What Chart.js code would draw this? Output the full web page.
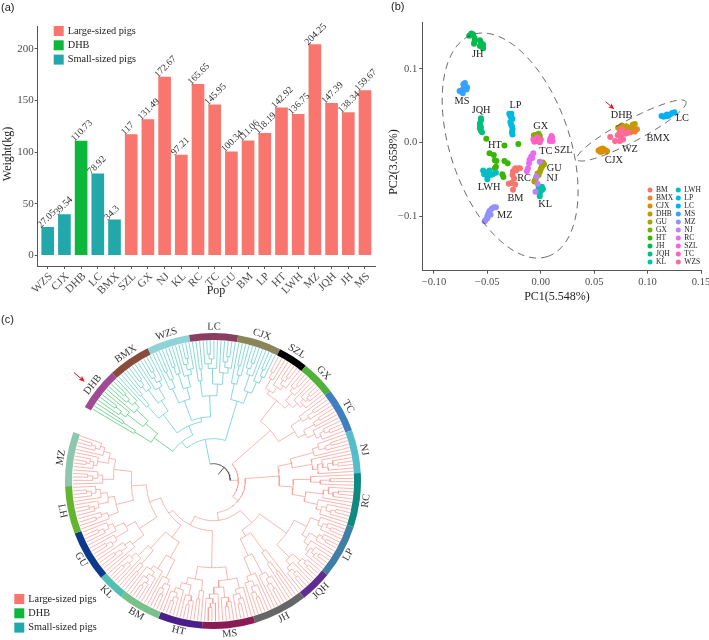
<!DOCTYPE html>
<html>
<head>
<meta charset="utf-8">
<script src="https://cdn.jsdelivr.net/npm/chart.js@4"></script>
<style>
  html, body { margin: 0; background: #fff; overflow: hidden; }
  canvas { position: absolute; }
</style>
</head>
<body>
<canvas id="bars" width="385" height="305" style="left:0;top:0"></canvas>
<canvas id="pca" width="334" height="305" style="left:375px;top:0"></canvas>
<canvas id="ring" width="296" height="296" style="left:65.3px;top:332.7px"></canvas>
<canvas id="tree" width="400" height="335" style="left:0;top:305px"></canvas>
<script>
// (a) body weight per population
const pops = ["WZS","CJX","DHB","LC","BMX","SZL","GX","NJ","KL","RC","TC","GU","BM","LP","HT","LWH","MZ","JQH","JH","MS"];
const weights = [27.05,39.54,110.73,78.92,34.3,117,131.49,172.67,97.21,165.65,145.95,100.34,111.06,118.19,142.92,136.75,204.25,147.39,138.34,159.67];
const weightLabels = ["27.05","39.54","110.73","78.92","34.3","117","131.49","172.67","97.21","165.65","145.95","100.34","111.06","118.19","142.92","136.75","204.25","147.39","138.34","159.67"];
const smallPigs = ["WZS","CJX","LC","BMX"];
const dhbPigs = ["DHB"];
const groupNames = ["Large-sized pigs","DHB","Small-sized pigs"];
const groupColors = ["#f8766d","#0cb73c","#22a8ab"];
const weightTicks = [0,50,100,150,200];

// (b) PCA, one list of [PC1, PC2] per population
const pcaNames = ["BM","BMX","CJX","DHB","GU","GX","HT","JH","JQH","KL","LWH","LP","LC","MS","MZ","NJ","RC","SZL","TC","WZS"];
const pcaColors = ["#F8766D","#EA8331","#D89000","#C09B00","#A3A500","#7CAE00","#39B600","#00BB4E","#00BF7D","#00C1A3","#00BFC4","#00BAE0","#00B0F6","#35A2FF","#9590FF","#C77CFF","#E76BF3","#FA62DB","#FF62BC","#FF6A98"];
const pcaBM = [[-.021,-.035],[-.024,-.035],[-.026,-.039],[-.0265,-.044],[-.025,-.049],[-.0275,-.055],[-.024,-.057],[-.026,-.064],[-.03,-.056],[-.0195,-.035],[-.023,-.038]];
const pcaBMX = [[.081,.013],[.088,.015],[.09,.018],[.084,.014],[.079,.016],[.086,.019]];
const pcaCJX = [[.054,-.011],[.056,-.009],[.058,-.008],[.06,-.01],[.062,-.012],[.056,-.013],[.058,-.012]];
const pcaDHB = [[.0725,.02],[.076,.023],[.08,.022],[.084,.02],[.086,.024],[.088,.025],[.083,.017],[.078,.018]];
const pcaGU = [[.002,-.027],[.003,-.03],[.001,-.033],[0,-.036],[-.001,-.04],[-.002,-.044],[-.004,-.047],[-.005,-.05],[-.006,-.053],[-.003,-.042],[.001,-.029]];
const pcaGX = [[-.0065,.01],[-.004,.0105],[-.002,.012],[-.001,.009],[-.005,.008]];
const pcaHT = [[-.051,.005],[-.034,-.004],[-.021,-.002],[-.048,-.0145],[-.044,-.017],[-.043,-.024],[-.0415,-.025],[-.042,-.033],[-.043,-.035],[-.034,-.025],[-.031,-.028],[-.036,-.043],[-.035,-.047]];
const pcaJH = [[-.065,.148],[-.0635,.147],[-.067,.145],[-.062,.142],[-.062,.137],[-.057,.139],[-.056,.136],[-.054,.133],[-.057,.131],[-.054,.128],[-.0625,.134]];
const pcaJQH = [[-.056,.033],[-.056,.03],[-.057,.026],[-.057,.023],[-.057,.019],[-.056,.016],[-.055,.014],[-.056,.021]];
const pcaKL = [[-.002,-.061],[.001,-.06],[.002,-.063],[0,-.066],[-.001,-.07],[-.001,-.073],[.001,-.064]];
const pcaLWH = [[-.054,-.038],[-.052,-.04],[-.05,-.042],[-.048,-.038],[-.05,-.046],[-.05,-.05],[-.047,-.044],[-.045,-.043],[-.042,-.041],[-.053,-.043]];
const pcaLP = [[-.0295,.039],[-.0275,.039],[-.0285,.036],[-.0275,.034],[-.0265,.032],[-.0285,.028],[-.028,.025],[-.027,.022],[-.0265,.018],[-.027,.014],[-.0265,.011]];
const pcaLC = [[.113,.036],[.115,.035],[.117,.036],[.119,.036],[.121,.038],[.123,.04],[.125,.041],[.118,.038]];
const pcaMS = [[-.073,.072],[-.072,.077],[-.0725,.079],[-.071,.081],[-.069,.075],[-.0695,.072],[-.0745,.069],[-.076,.07],[-.073,.067],[-.0715,.074]];
const pcaMZ = [[-.0525,-.107],[-.0515,-.105],[-.05,-.1],[-.049,-.096],[-.048,-.093],[-.046,-.09],[-.044,-.088],[-.042,-.088],[-.047,-.098],[-.05,-.103]];
const pcaNJ = [[-.005,-.067],[-.003,-.056],[-.004,-.046],[-.001,-.026]];
const pcaRC = [[-.007,-.0145],[-.009,-.019],[-.0105,-.0235],[-.011,-.028],[-.012,-.035],[-.013,-.039],[-.008,-.021]];
const pcaSZL = [[.009,.005],[.0105,.007],[.011,.002],[.0095,.0035],[.0085,.002],[.01,.009]];
const pcaTC = [[-.007,.004],[-.004,.002],[-.002,.003],[-.006,.001],[0,.004],[-.001,.0005],[-.0035,.007]];
const pcaWZS = [[.065,.0075],[.0695,.002],[.074,.002],[.077,.004],[.072,.01],[.074,.015],[.076,.018],[.079,.012],[.082,.014],[.075,.008],[.0735,.012]];
const pcaPoints = [pcaBM,pcaBMX,pcaCJX,pcaDHB,pcaGU,pcaGX,pcaHT,pcaJH,pcaJQH,pcaKL,pcaLWH,pcaLP,pcaLC,pcaMS,pcaMZ,pcaNJ,pcaRC,pcaSZL,pcaTC,pcaWZS];
const pc1Ticks = [-.1,-.05,0,.05,.1,.15];
const pc2Ticks = [-.1,0,.1];
const clusterLabels = [["JH",-.059,.1193],["MS",-.0737,.0558],["JQH",-.0559,.044],["LP",-.0237,.0503],["GX",0,.0222],["HT",-.0431,-.0036],["TC",.0047,-.0113],["SZL",.0212,-.0104],["GU",.0125,-.0349],["NJ",.0106,-.0485],["RC",-.0156,-.0485],["LWH",-.0484,-.0608],["BM",-.0237,-.0757],["KL",.0041,-.0834],["MZ",-.0337,-.0993],["DHB",.0756,.0367],["LC",.1324,.0331],["BMX",.1099,.0059],["WZ",.0834,-.0086],["CJX",.0684,-.024]];
// centre, first and second half axis of the two dashed ellipses, in PC units
const ellipses = [[-.0287,-.0041,.0353,-.1506,-.0529,-.0262],[.0849,.0163,.0509,.0393,.00484,-.0132]];

// (c) ring of the tree: arc degrees per population, going clockwise from DHB
const ringPops = ["DHB","BMX","WZS","LC","CJX","SZL","GX","TC","NJ","RC","LP","JQH","JH","MS","HT","BM","KL","GU","LH","MZ"];
const ringSpans = [17,16.8,16.9,19.1,17.2,11.8,13.7,17.4,17,21.2,21.3,12.6,21.5,20.8,17.4,16.7,10.8,20,18.8,21.3];
const ringColors = ["#a04a96","#8a4b3a","#8fd3d8","#8a3f60","#8c8559","#000000","#4fb03a","#3f7fc0","#55bccb","#0f8a80","#3f7ea5","#5f2d91","#666666","#8a1c55","#4b1f8a","#78c18a","#53bfb2","#0b3a8c","#63b52f","#8bc8ae"];
// leaves per sub-clade of each population
const popShape = {DHB:[3,4,5],BMX:[3,4,5],WZS:[4,3,5],LC:[3,5,5],CJX:[4,4,4],SZL:[3,5],GX:[4,6],TC:[4,3,5],NJ:[5,7],RC:[4,5,6],LP:[5,4,6],JQH:[4,5],JH:[4,5,6],MS:[5,4,5],HT:[3,4,5],BM:[5,7],KL:[3,5],GU:[5,4,5],LH:[4,4,5],MZ:[5,5,5]};
// [radius, child, child]; ["POP", radius] is one population's clade
const treeTop =
  [17,
    [42,
      [50, ["DHB",73],
        [60, ["BMX",83], [64, ["WZS",85], ["LC",85]]]],
      ["CJX",83]],
    [25,
      [76, [102, ["SZL",106], ["GX",108]], ["TC",95]],
      [32,
        [66, ["NJ",80], ["RC",80]],
        [40,
          [57, [90, [98, ["LP",104]], ["JQH",108]], ["JH",64]],
          [50,
            [87, ["MS",100], ["HT",100]],
            [55,
              [70, ["BM",88], ["KL",92]],
              [67, ["GU",88], [82, ["LH",100], ["MZ",100]]]]]]]]];

const axisGrey = "#555555", tickGrey = "#4d4d4d";
const serif = "'Liberation Serif', 'Times New Roman', serif";
Chart.defaults.animation = false;
Chart.defaults.font.family = serif;
Chart.defaults.color = tickGrey;
Chart.defaults.plugins.legend.display = false;
Chart.defaults.plugins.tooltip.enabled = false;

function note(ctx, text, x, y, font, color, angle, align) {
  ctx.save();
  ctx.translate(x, y);
  ctx.rotate((angle || 0) * Math.PI / 180);
  ctx.font = font;
  ctx.fillStyle = color || "#222";
  ctx.textAlign = align || "center";
  ctx.textBaseline = "middle";
  ctx.fillText(text, 0, 0);
  ctx.restore();
}
function redArrow(ctx, x0, y0, x1, y1) {
  const a = Math.atan2(y1 - y0, x1 - x0);
  ctx.save();
  ctx.strokeStyle = ctx.fillStyle = "#e8131b";
  ctx.lineWidth = 1;
  ctx.beginPath(); ctx.moveTo(x0, y0); ctx.lineTo(x1, y1); ctx.stroke();
  ctx.translate(x1, y1); ctx.rotate(a);
  ctx.beginPath(); ctx.moveTo(1, 0); ctx.lineTo(-5, -2.6); ctx.lineTo(-3.6, 0); ctx.lineTo(-5, 2.6); ctx.closePath(); ctx.fill();
  ctx.restore();
}
function groupLegend(ctx, x, y) {
  groupNames.forEach((name, i) => {
    ctx.fillStyle = groupColors[i];
    ctx.fillRect(x, y - 5 + i * 14.3, 10, 10);
    note(ctx, name, x + 14, y + i * 14.3, "10.3px " + serif, "#222", 0, "left");
  });
}
function fixBox(w, h) {
  return s => {
    if (w) s.width = w;
    if (h) s.height = h;
    s.paddingLeft = s.paddingRight = s.paddingTop = s.paddingBottom = 0;
  };
}
const useTicks = list => s => { s.ticks = list.map(value => ({value})); };

// ---- (a) ----
function groupOf(p) { return dhbPigs.includes(p) ? 1 : smallPigs.includes(p) ? 2 : 0; }
const barSets = groupNames.map((name, g) => ({
  label: name,
  backgroundColor: groupColors[g],
  barThickness: 12,
  grouped: false,
  data: pops.map((p, i) => ({x: i, y: weights[i], g: groupOf(p)})).filter(d => d.g === g)
}));
new Chart(document.getElementById("bars"), {
  type: "bar",
  data: {datasets: barSets},
  options: {
    responsive: false,
    layout: {padding: {top: 26, right: 10, left: 0, bottom: 0}},
    scales: {
      x: {
        type: "linear", min: -0.6, max: 19.6, offset: false,
        afterBuildTicks: useTicks(pops.map((p, i) => i)),
        afterFit: fixBox(0, 39),
        ticks: {callback: v => pops[v], autoSkip: false, minRotation: 45, maxRotation: 45, padding: 1, labelOffset: 3, font: {size: 11.2}},
        grid: {drawOnChartArea: false, offset: false, tickLength: 3, color: axisGrey},
        border: {color: axisGrey}
      },
      y: {
        min: -10.4, max: 222.3,
        afterBuildTicks: useTicks(weightTicks),
        afterFit: fixBox(37.7, 0),
        ticks: {padding: 1, font: {size: 11}},
        grid: {drawOnChartArea: false, tickLength: 3, color: axisGrey},
        border: {color: axisGrey}
      }
    }
  },
  plugins: [{
    id: "barNotes",
    afterDraw(chart) {
      const {ctx, scales: {x, y}} = chart;
      weights.forEach((w, i) => {
        note(ctx, weightLabels[i], x.getPixelForValue(i) - 8.5, y.getPixelForValue(w) - 1, "9.6px " + serif, "#333", -45, "left");
      });
      groupLegend(ctx, 53.7, 31);
      note(ctx, "(a)", 1, 8, "11px 'Liberation Sans'", "#222", 0, "left");
      note(ctx, "Weight(kg)", 7.5, 154, "12px " + serif, "#222", -90);
      note(ctx, "Pop", 216, 291, "12px " + serif, "#222");
    }
  }]
});

// ---- (b) ----
const pcaSets = pcaNames.map((name, i) => ({
  label: name,
  order: pcaNames.length - i,
  backgroundColor: pcaColors[i],
  pointRadius: 3,
  pointBorderWidth: 0,
  data: pcaPoints[i].map(p => ({x: p[0], y: p[1]}))
}));
new Chart(document.getElementById("pca"), {
  type: "scatter",
  data: {datasets: pcaSets},
  options: {
    responsive: false,
    layout: {padding: {top: 22, right: 7.3, left: 0, bottom: 0}},
    scales: {
      x: {
        min: -.1109, max: .1506,
        afterBuildTicks: useTicks(pc1Ticks),
        afterFit: fixBox(0, 34.3),
        ticks: {callback: v => (v < 0 ? "\u2212" : "") + Math.abs(v).toFixed(2), padding: 2, maxRotation: 0, autoSkip: false, font: {size: 10.6}},
        grid: {drawOnChartArea: false, tickLength: 3, color: axisGrey},
        border: {color: axisGrey}
      },
      y: {
        min: -.1741, max: .1637,
        afterBuildTicks: useTicks(pc2Ticks),
        afterFit: fixBox(47.3, 0),
        ticks: {callback: v => (v < 0 ? "\u2212" : "") + Math.abs(v).toFixed(1), padding: 2, font: {size: 10.6}},
        grid: {drawOnChartArea: false, tickLength: 3, color: axisGrey},
        border: {color: axisGrey}
      }
    }
  },
  plugins: [{
    id: "pcaNotes",
    afterDatasetsDraw(chart) {
      const {ctx, scales: {x, y}} = chart;
      ctx.save();
      ctx.strokeStyle = "#444"; ctx.lineWidth = 0.8; ctx.setLineDash([7, 5]);
      ellipses.forEach(e => {
        ctx.beginPath();
        for (let t = 0; t <= 120; t++) {
          const c = Math.cos(t * Math.PI / 60), s = Math.sin(t * Math.PI / 60);
          ctx.lineTo(x.getPixelForValue(e[0] + e[2] * c + e[4] * s), y.getPixelForValue(e[1] + e[3] * c + e[5] * s));
        }
        ctx.stroke();
      });
      ctx.restore();
      clusterLabels.forEach(l => note(ctx, l[0], x.getPixelForValue(l[1]), y.getPixelForValue(l[2]), "10.3px " + serif, "#222"));
      pcaNames.forEach((name, i) => {
        const col = i < 10 ? 0 : 1, row = i % 10;
        const px = 275 + col * 28.3, py = 190 + row * 8;
        ctx.fillStyle = pcaColors[i];
        ctx.beginPath(); ctx.arc(px, py, 2.5, 0, Math.PI * 2); ctx.fill();
        note(ctx, name, px + 6, py, "7.5px " + serif, "#222", 0, "left");
      });
      redArrow(ctx, 230.7, 101.7, 238.5, 108.5);
      note(ctx, "(b)", 16, 7, "11px 'Liberation Sans'", "#222", 0, "left");
      note(ctx, "PC1(5.548%)", 182, 296.7, "12px " + serif, "#222");
      note(ctx, "PC2(3.658%)", 18.5, 162, "12px " + serif, "#222", -90);
    }
  }]
});

// ---- (c) ring ----
new Chart(document.getElementById("ring"), {
  type: "doughnut",
  data: {labels: ringPops, datasets: [{data: ringSpans, backgroundColor: ringColors, borderWidth: 0}]},
  options: {responsive: false, rotation: 300, circumference: 349.3, cutout: "95.3%"}
});

// ---- (c) tree ----
const leafR = 140.5;
function block(n, r, flip) {
  if (n === 1) return null;
  const next = r + (136 - r) / n;
  return flip ? [r, block(n - 1, next, !flip), null] : [r, null, block(n - 1, next, !flip)];
}
function popClade(sizes, r) {
  if (sizes.length === 1) return block(sizes[0], r, false);
  const next = r + (120 - r) / sizes.length;
  return [r, block(sizes[0], next + 4, sizes.length % 2 === 0), popClade(sizes.slice(1), next)];
}
const treePaths = {large: [], dhb: [], small: [], root: []};
const polar = (deg, r) => ({x: r * Math.sin(deg * Math.PI / 180), y: r * Math.cos(deg * Math.PI / 180)});
const BREAK = {x: null, y: null};
function addEdge(cls, deg, r0, r1, arcFrom, arcTo) {
  const path = treePaths[cls];
  path.push(polar(deg, r0), polar(deg, r1), BREAK);
  if (arcFrom !== undefined) {
    for (let a = arcFrom; a < arcTo; a += 2) path.push(polar(a, r1));
    path.push(polar(arcTo, r1), BREAK);
  }
}
const popClass = p => p === "DHB" ? "dhb" : smallPigs.includes(p) ? "small" : "large";
let popIndex = -1, leafIndex = 0, leafCount = 0, popStart = 0, ringAngle = 300;
function enterPop(name) {
  popIndex = ringPops.indexOf(name);
  popStart = ringAngle;
  ringAngle += ringSpans[popIndex];
  leafIndex = 0;
  leafCount = popShape[name].reduce((a, b) => a + b, 0);
}
function walk(spec, parentR, cls) {
  if (spec === null) {
    const deg = popStart + (leafIndex++ + 0.5) * ringSpans[popIndex] / leafCount;
    addEdge(cls, deg, parentR, leafR);
    return {deg, cls};
  }
  if (typeof spec[0] === "string") {
    enterPop(spec[0]);
    return walk(popClade(popShape[spec[0]], spec[1]), parentR, popClass(spec[0]));
  }
  const kids = spec.slice(1).map(k => walk(k, spec[0], cls));
  const deg = (kids[0].deg + kids[kids.length - 1].deg) / 2;
  const classes = new Set(kids.map(k => k.cls));
  let own = kids[0].cls;
  if (classes.size > 1) own = classes.has("large") ? "root" : "small";
  addEdge(own, deg, parentR, spec[0], kids[0].deg, kids[kids.length - 1].deg);
  return {deg, cls: own};
}
walk(treeTop, 8);

const treeColors = {large: "#f79f98", dhb: "#45c973", small: "#62cbcf", root: "#555555"};
new Chart(document.getElementById("tree"), {
  type: "scatter",
  data: {datasets: Object.keys(treePaths).map(k => ({
    label: k, data: treePaths[k], showLine: true, spanGaps: false,
    borderColor: treeColors[k], borderWidth: k === "root" ? 1 : 0.75, pointRadius: 0
  }))},
  options: {
    responsive: false,
    layout: {padding: 0},
    scales: {
      x: {display: false, min: -213.3, max: 186.7},
      y: {display: false, min: -159.3, max: 175.7}
    }
  },
  plugins: [{
    id: "treeNotes",
    afterDraw(chart) {
      const {ctx, scales: {x, y}} = chart;
      let a = 300;
      ringPops.forEach((name, i) => {
        const mid = a + ringSpans[i] / 2, deg = mid % 360;
        a += ringSpans[i];
        const p = polar(mid, 154);
        const turn = deg > 90 && deg < 270 ? deg - 180 : deg;
        note(ctx, name, x.getPixelForValue(p.x), y.getPixelForValue(p.y), "10.5px " + serif, "#333", turn);
      });
      redArrow(ctx, 74, 67.7, 84, 76);
      groupLegend(ctx, 14.3, 294);
      note(ctx, "(c)", 1, 15, "11px 'Liberation Sans'", "#222", 0, "left");
    }
  }]
});
</script>
</body>
</html>
